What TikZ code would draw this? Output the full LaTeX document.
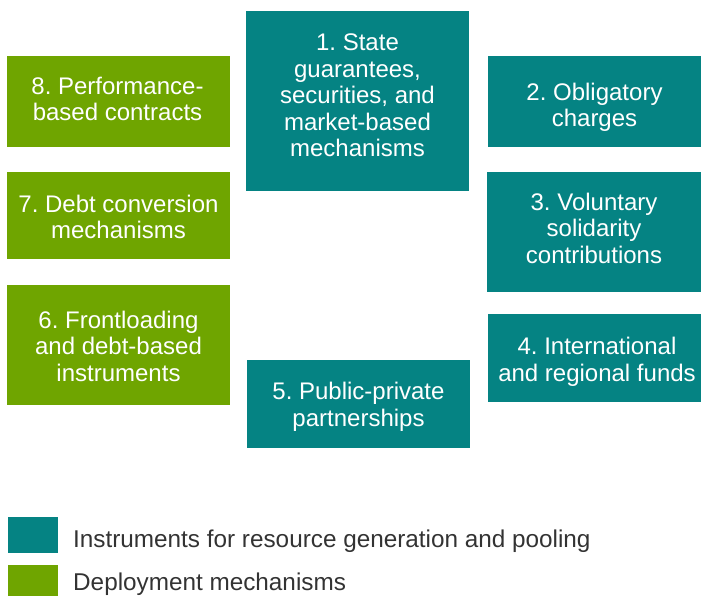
\documentclass[tikz,border=0pt]{standalone}
\usepackage{fontspec}
\setmainfont{Liberation Sans}
\frenchspacing
\usetikzlibrary{positioning}
\definecolor{poolteal}{HTML}{058383}
\definecolor{deploygreen}{HTML}{6FA500}
\definecolor{legendgray}{HTML}{333333}
\tikzstyle{box}=[rectangle,draw=none,inner sep=0pt]
\tikzstyle{poolbox}=[box,fill=poolteal]
\tikzstyle{deploybox}=[box,fill=deploygreen]
\tikzstyle{boxtext}=[anchor=base,text=white,align=center,inner sep=0pt,font=\fontsize{24}{26.5}\selectfont]
\tikzstyle{legendtext}=[anchor=base west,text=legendgray,inner sep=0pt,font=\fontsize{24.3}{26}\selectfont]

\begin{document}
\begin{tikzpicture}[x=1pt,y=-1pt]

   \useasboundingbox (0,0) rectangle (701,596);

    % instruments for resource generation and pooling
    \node[poolbox,minimum width=223pt,minimum height=180pt] (state) at (357.5,101) {};
    \node[poolbox,minimum width=213pt,minimum height=91pt] (obligatory) at (594.5,101.5) {};
    \node[poolbox,minimum width=214pt,minimum height=120pt] (voluntary) at (594,232) {};
    \node[poolbox,minimum width=213pt,minimum height=88pt] (funds) at (594.5,358) {};
    \node[poolbox,minimum width=223pt,minimum height=88pt] (ppp) at (358.5,404) {};

    % deployment mechanisms
    \node[deploybox,minimum width=223pt,minimum height=120pt] (frontloading) at (118.5,345) {};
    \node[deploybox,minimum width=223pt,minimum height=87pt] (debtconv) at (118.5,215.5) {};
    \node[deploybox,minimum width=223pt,minimum height=91pt] (performance) at (118.5,101.5) {};

    % texts, placed by the baseline of their last line
    \node[boxtext] (statetext) at (357.5,156.7) {1. State\\guarantees,\\securities, and\\market-based\\mechanisms};
    \node[boxtext] (obligatorytext) at (594.5,126.7) {2. Obligatory\\charges};
    \node[boxtext] (voluntarytext) at (594,263.3) {3. Voluntary\\solidarity\\contributions};
    \node[boxtext] (fundstext) at (597,381) {4. International\\and regional funds};
    \node[boxtext] (ppptext) at (358.5,426) {5. Public-private\\partnerships};
    \node[boxtext] (frontloadingtext) at (118.5,381) {6. Frontloading\\and debt-based\\instruments};
    \node[boxtext] (debtconvtext) at (118.5,238.7) {7. Debt conversion\\mechanisms};
    \node[boxtext] (performancetext) at (117.5,120.7) {8. Performance-\\based contracts};

    % legend
    \fill[poolteal] (8,517) rectangle (58,553);
    \fill[deploygreen] (8,565) rectangle (58,596);
    \node[legendtext] (pooltext) at (73,547) {Instruments for resource generation and pooling};
    \node[legendtext] (deploytext) at (73,590) {Deployment mechanisms};

\end{tikzpicture}
\end{document}
